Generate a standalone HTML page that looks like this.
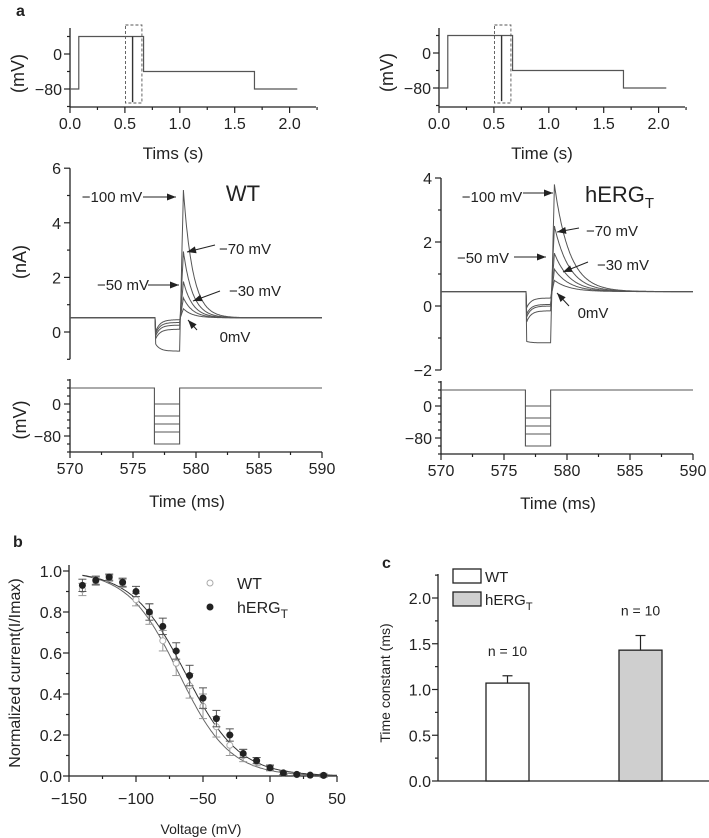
<!DOCTYPE html>
<html><head><meta charset="utf-8"><style>
body{margin:0;background:#fff;}
svg{display:block;font-family:"Liberation Sans",sans-serif;}
text{fill:#222;}
</style></head><body>
<svg id="fig" width="709" height="838" viewBox="0 0 709 838">
<text x="16" y="16" font-size="16" font-weight="bold">a</text>
<text x="13" y="547" font-size="16" font-weight="bold">b</text>
<text x="382" y="568" font-size="16" font-weight="bold">c</text>
</svg>
<script>
// ---- data ----
const protoT=[0,0.08,0.08,0.67,0.67,1.68,1.68,2.07];
const protoV=[-80,-80,40,40,-40,-40,-80,-80];
const stepLevels=[0,-30,-50,-70,-100];
const wtPeak=[0.85,1.25,1.85,2.95,5.2];
const wtStepStart=[-0.05,-0.12,-0.2,-0.3,-0.4];
const wtStepEnd=[0.45,0.35,0.25,0.1,-0.7];
const wtBase=[0.52];
const wtTau=[0.75];
const hPeak=[0.8,1.15,1.65,2.5,3.8];
const hStepStart=[-0.1,-0.3,-0.4,-0.55,-1.1];
const hStepEnd=[0.25,0.05,0.0,-0.15,-1.15];
const hBase=[0.45];
const hTau=[1.2];
const ivV=[-140,-130,-120,-110,-100,-90,-80,-70,-60,-50,-40,-30,-20,-10,0,10,20,30,40];
const ivWT=[0.91,0.95,0.965,0.94,0.86,0.79,0.66,0.55,0.44,0.34,0.24,0.15,0.1,0.07,0.04,0.015,0.007,0.004,0.003];
const ivWTerr=[0.03,0.02,0.015,0.02,0.03,0.05,0.05,0.06,0.06,0.06,0.05,0.05,0.03,0.02,0.015,0.01,0.01,0.005,0.01];
const ivH=[0.93,0.955,0.97,0.945,0.9,0.8,0.73,0.61,0.49,0.38,0.28,0.2,0.11,0.075,0.04,0.015,0.008,0.004,0.003];
const ivHerr=[0.03,0.02,0.015,0.02,0.025,0.04,0.04,0.04,0.05,0.05,0.04,0.03,0.02,0.015,0.01,0.008,0.006,0.004,0.004];
const fitHalf=[-68,-63];
const fitSlope=[19,20];
const barNames=["WT","hERGT"];
const barVals=[1.07,1.43];
const barErr=[0.08,0.16];
const barN=["n = 10","n = 10"];

const S=document.getElementById('fig');
const NS="http://www.w3.org/2000/svg";
function el(tag,attrs,parent){const e=document.createElementNS(NS,tag);for(const k in attrs)e.setAttribute(k,attrs[k]);(parent||S).appendChild(e);return e;}
function txt(x,y,s,size,anchor,parent){const t=el('text',{x:x,y:y,'font-size':size,'text-anchor':anchor||'middle'},parent);t.textContent=s;return t;}
const LC="#555";

function line(x1,y1,x2,y2,c,w,p){return el('line',{x1,y1,x2,y2,stroke:c||'#222','stroke-width':w||1.2},p);}

// ---- Protocol (top) panels ----
function protoPanel(ax,y0,name,xlabel){
  const g=el('g',{});
  
  
  const X=t=>ax+t*109.8, Y=v=>y0-v*35/80;
  line(ax,28,ax,107,'#222',1.3,g); line(ax,107,ax+246,107,'#222',1.3,g);
  [40,0,-40,-80,-120].forEach(v=>{line(ax,Y(v),ax-((v%80===0)?6:3),Y(v),'#222',1.2,g);});
  txt(ax-8,Y(0)+6,'0',16,'end',g); txt(ax-8,Y(-80)+6,'\u221280',16,'end',g);
  for(let t=0;t<=2.25;t+=0.25){const maj=Math.abs(t*2-Math.round(t*2))<1e-6;line(X(t),107,X(t),107+(maj?6:3),'#222',1.2,g);
    if(maj)txt(X(t),129,t.toFixed(1),16,'middle',g);}
  const r=txt(ax-52,Y(-40)+2,'(mV)',18,'middle',g); r.setAttribute('transform',`rotate(-90 ${ax-52} ${Y(-40)+2})`);
  r.setAttribute('dy','6');
  txt(ax+103,159,xlabel,17,'middle',g);
  let d='';protoT.forEach((t,i)=>{d+=(i?'L':'M')+X(t)+' '+Y(protoV[i]);});
  el('path',{d,fill:'none',stroke:LC,'stroke-width':1.2},g);
  line(X(0.57),Y(40),X(0.57),Y(-110),'#333',1.4,g);
  el('rect',{x:X(0.505),y:25,width:X(0.655)-X(0.505),height:78,fill:'none',stroke:'#555','stroke-dasharray':'3,2','stroke-width':0.9},g);
}
protoPanel(70,54,'wt-protocol-overview','Tims (s)');
protoPanel(439,53,'herg-protocol-overview','Time (s)');

// ---- current traces ----
function currentPanel(ax,zeroY,ppn,top,bot,ticks,labels,peak,s0,s1,base,tau,name){
  const g=el('g',{});
  
  
  const X=ms=>ax+(ms-570)*12.6, Y=i=>zeroY-i*ppn;
  line(ax,Y(top),ax,Y(bot),'#222',1.3,g);
  ticks.forEach(v=>{const lab=labels.includes(v);line(ax,Y(v),ax-(lab?6:3),Y(v),'#222',1.2,g);
    if(lab)txt(ax-9,Y(v)+6,String(v).replace('-','\u2212'),16,'end',g);});
  for(let k=0;k<peak.length;k++){
    let d='';
    for(let t=570;t<=590.001;t+=0.05){
      let v;
      if(t<576.75)v=base[0];
      else if(t<578.7){v=s0[k]+(s1[k]-s0[k])*(1-Math.exp(-(t-576.75)/0.35));}
      else if(t<579.0){v=s1[k]+(peak[k]-s1[k])*((t-578.7)/0.3);}
      else v=base[0]+(peak[k]-base[0])*Math.exp(-(t-579)/tau[0]);
      d+=(d?'L':'M')+X(t).toFixed(1)+' '+Y(v).toFixed(1);
    }
    const p=el('path',{d,fill:'none',stroke:LC,'stroke-width':1},g);
    
    
  }
  return {X,Y,g};
}
const L=currentPanel(70,332,27.3,6,-1,[6,5,4,3,2,1,0,-1],[6,4,2,0],wtPeak,wtStepStart,wtStepEnd,wtBase,wtTau,'wt-current-traces');
const R=currentPanel(441,306,32,4,-2,[4,3,2,1,0,-1,-2],[4,2,0,-2],hPeak,hStepStart,hStepEnd,hBase,hTau,'herg-current-traces');
(function(){const t=txt(20,262,'(nA)',18,'middle');t.setAttribute('transform','rotate(-90 20 262)');t.setAttribute('dy','6');})();

function arrow(x1,y1,x2,y2,p){line(x1,y1,x2,y2,'#222',1,p);const a=Math.atan2(y2-y1,x2-x1),l=9,w=3.5;
  const bx=x2-l*Math.cos(a),by=y2-l*Math.sin(a);
  el('polygon',{points:`${x2},${y2} ${bx-w*Math.sin(a)},${by+w*Math.cos(a)} ${bx+w*Math.sin(a)},${by-w*Math.cos(a)}`,fill:'#222'},p);}
// WT annotations
txt(243,201,'WT',22,'middle',L.g);
txt(112,202,'\u2212100 mV',15,'middle',L.g); arrow(143,197,176,197,L.g);
txt(245,254,'\u221270 mV',15,'middle',L.g); arrow(215,245,187,252,L.g);
txt(123,290,'\u221250 mV',15,'middle',L.g); arrow(148,285,179,285,L.g);
txt(255,296,'\u221230 mV',15,'middle',L.g); arrow(220,291,193,301,L.g);
txt(235,342,'0mV',15,'middle',L.g); arrow(197,330,188,320,L.g);
// hERG annotations
const ht=txt(585,202,'hERG',22,'start',R.g); const sub=el('tspan',{'font-size':15,dy:6},ht); sub.textContent='T';
txt(492,202,'\u2212100 mV',15,'middle',R.g); arrow(523,193,553,193,R.g);
txt(612,236,'\u221270 mV',15,'middle',R.g); arrow(579,228,557,232,R.g);
txt(483,263,'\u221250 mV',15,'middle',R.g); arrow(514,257,546,257,R.g);
txt(623,270,'\u221230 mV',15,'middle',R.g); arrow(588,262,563,272,R.g);
txt(593,318,'0mV',15,'middle',R.g); arrow(569,306,557,293,R.g);

// ---- step protocol panels ----
function stepPanel(ax,zeroY,axisY,name){
  const g=el('g',{});
  
  
  const X=ms=>ax+(ms-570)*12.6, Y=v=>zeroY-v*0.4;
  line(ax,axisY-73,ax,axisY,'#222',1.3,g); line(ax,axisY,ax+252,axisY,'#222',1.3,g);
  [40,0,-40,-80,-120].forEach(v=>{if(Y(v)>axisY+1||Y(v)<axisY-74)return;line(ax,Y(v),ax-(v%80===0?6:3),Y(v),'#222',1.2,g);});
  [60,20,-20,-60,-100].forEach(v=>{if(Y(v)>axisY||Y(v)<axisY-74)return;line(ax,Y(v),ax-3,Y(v),'#222',1.2,g);});
  txt(ax-9,Y(0)+6,'0',16,'end',g); txt(ax-9,Y(-80)+6,'\u221280',16,'end',g);
  for(let t=570;t<=590;t+=2.5){const maj=t%5===0;line(X(t),axisY,X(t),axisY+(maj?6:3),'#222',1.2,g);
    if(maj)txt(X(t),axisY+22,String(t),16,'middle',g);}
  txt(ax+117,axisY+55,'Time (ms)',17,'middle',g);
  const lo=Math.min(...stepLevels);
  let d=`M${X(570)} ${Y(40)}L${X(576.7)} ${Y(40)}L${X(576.7)} ${Y(lo)}L${X(578.7)} ${Y(lo)}L${X(578.7)} ${Y(40)}L${X(590)} ${Y(40)}`;
  el('path',{d,fill:'none',stroke:LC,'stroke-width':1.1},g);
  stepLevels.forEach(v=>line(X(576.7),Y(v),X(578.7),Y(v),LC,1,g));
}
stepPanel(70,404,452,'wt-step-protocol');
stepPanel(441,406,454,'herg-step-protocol');
(function(){const t=txt(20,420,'(mV)',18,'middle');t.setAttribute('transform','rotate(-90 20 420)');t.setAttribute('dy','6');})();

// ---- panel b ----
(function(){
  const g=el('g',{});
  
  
  const X=v=>69+(v+150)*1.34, Y=r=>776-r*205;
  line(69,565,69,776,'#222',1.3,g); line(69,776,337,776,'#222',1.3,g);
  for(let r=0;r<=1.0001;r+=0.1){const maj=Math.round(r*10)%2===0;line(69,Y(r),69-(maj?6:3),Y(r),'#222',1.2,g);
    if(maj)txt(62,Y(r)+6,r.toFixed(1),16,'end',g);}
  for(let v=-150;v<=50;v+=25){const maj=v%50===0;line(X(v),776,X(v),776+(maj?6:3),'#222',1.2,g);
    if(maj)txt(X(v),804,String(v).replace('-','\u2212'),16,'middle',g);}
  txt(201,834,'Voltage (mV)',14,'middle',g);
  const yl=txt(14,673,'Normalized current(I/Imax)',16,'middle',g);yl.setAttribute('transform','rotate(-90 14 673)');yl.setAttribute('dy','6');
  [0,1].forEach(k=>{let d='';for(let v=-140;v<=50;v+=1){const r=1/(1+Math.exp((v-fitHalf[k])/fitSlope[k]));d+=(d?'L':'M')+X(v).toFixed(1)+' '+Y(r).toFixed(1);}
    const p=el('path',{d,fill:'none',stroke:k?'#333':'#666','stroke-width':1},g);
    
    });
  ivV.forEach((v,i)=>{
    line(X(v),Y(ivWT[i]-ivWTerr[i]),X(v),Y(ivWT[i]+ivWTerr[i]),'#999',1,g);
    line(X(v)-4,Y(ivWT[i]+ivWTerr[i]),X(v)+4,Y(ivWT[i]+ivWTerr[i]),'#999',1,g);
    line(X(v)-4,Y(ivWT[i]-ivWTerr[i]),X(v)+4,Y(ivWT[i]-ivWTerr[i]),'#999',1,g);
    const c=el('circle',{cx:X(v),cy:Y(ivWT[i]),r:3,fill:'#fff',stroke:'#aaa','stroke-width':1},g);
    
    
    line(X(v),Y(ivH[i]-ivHerr[i]),X(v),Y(ivH[i]+ivHerr[i]),'#555',1,g);
    line(X(v)-4,Y(ivH[i]+ivHerr[i]),X(v)+4,Y(ivH[i]+ivHerr[i]),'#555',1,g);
    line(X(v)-4,Y(ivH[i]-ivHerr[i]),X(v)+4,Y(ivH[i]-ivHerr[i]),'#555',1,g);
    const h=el('circle',{cx:X(v),cy:Y(ivH[i]),r:3.5,fill:'#222'},g);
    
    
  });
  const lg=el('g',{},g);
  
  
  el('circle',{cx:210,cy:583,r:3,fill:'#fff',stroke:'#aaa'},lg); txt(237,589,'WT',16,'start',lg);
  el('circle',{cx:210,cy:607,r:3.5,fill:'#222'},lg); const t=txt(237,613,'hERG',16,'start',lg);
  const s=el('tspan',{'font-size':12,dy:5},t);s.textContent='T';
})();

// ---- panel c ----
(function(){
  const g=el('g',{});
  
  
  const Y=v=>781-v*91.5;
  const bx=[486,619], bw=43;
  line(438,574,438,781,'#222',1.3,g); line(438,781,709,781,'#222',1.3,g);
  for(let v=0;v<=2.25;v+=0.25){const maj=Math.round(v*4)%2===0;line(438,Y(v),438-(maj?6:3),Y(v),'#222',1.2,g);
    if(maj)txt(431,Y(v)+6,v.toFixed(1),16,'end',g);}
  const yl=txt(385,683,'Time constant (ms)',14,'middle',g);yl.setAttribute('transform','rotate(-90 385 683)');yl.setAttribute('dy','5');
  barVals.forEach((v,i)=>{
    const r=el('rect',{x:bx[i],y:Y(v),width:bw,height:Y(0)-Y(v),fill:i?'#cfcfcf':'#fff',stroke:'#222','stroke-width':1.3},g);
    
    
    line(bx[i]+bw/2,Y(v),bx[i]+bw/2,Y(v+barErr[i]),'#222',1.2,g);
    line(bx[i]+bw/2-5,Y(v+barErr[i]),bx[i]+bw/2+5,Y(v+barErr[i]),'#222',1.2,g);
    txt(bx[i]+bw/2,Y(v+barErr[i])-20,barN[i],14,'middle',g);
  });
  const lg=el('g',{},g);
  
  
  el('rect',{x:453,y:569,width:28,height:14,fill:'#fff',stroke:'#222','stroke-width':1.3},lg); txt(485,582,'WT',15,'start',lg);
  el('rect',{x:453,y:592,width:28,height:14,fill:'#cfcfcf',stroke:'#222','stroke-width':1.3},lg);
  const t=txt(485,605,'hERG',15,'start',lg); const s=el('tspan',{'font-size':11,dy:5},t);s.textContent='T';
})();
</script>
</body></html>
